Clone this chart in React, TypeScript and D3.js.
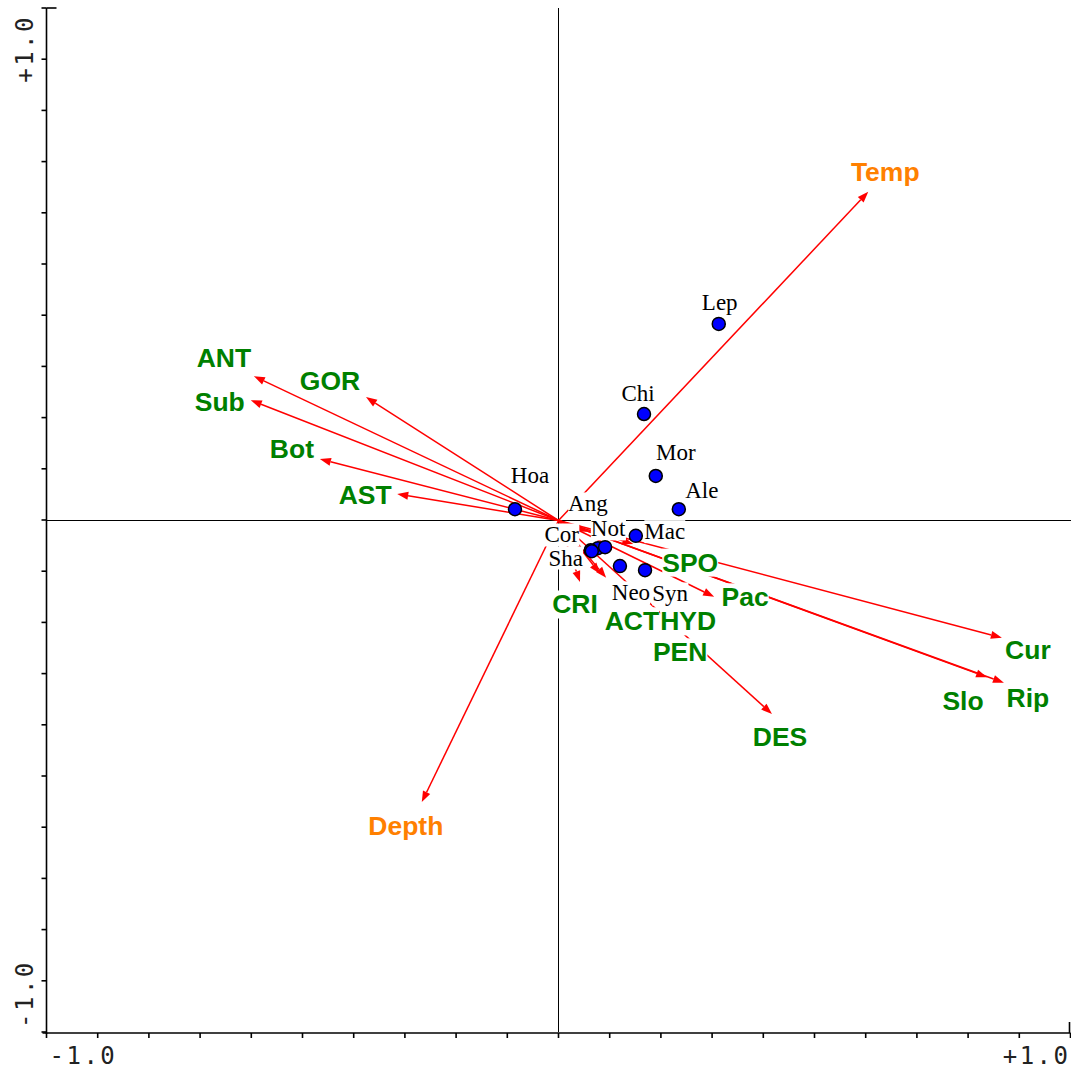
import { useEffect, useRef } from "react";
import * as d3 from "d3";

const W = 1071;
const H = 1070;

// environmental variables (orange)
const envNames = ["Temp", "Depth"];
const envX = [0.605, -0.267];
const envY = [0.641, -0.551];

// trait / habitat vectors (green)
const varNames = ["ANT", "Sub", "GOR", "Bot", "AST", "Cur", "Rip", "Slo", "DES", "Pac", "SPO", "PEN", "CRI", "ACT", "HYD"];
const varX = [-0.595, -0.601, -0.376, -0.466, -0.315, 0.866, 0.87, 0.837, 0.417, 0.304, 0.146, 0.056, 0.042, 0.081, 0.093];
const varY = [0.281, 0.234, 0.24, 0.119, 0.051, -0.23, -0.318, -0.307, -0.379, -0.15, -0.047, -0.023, -0.121, -0.105, -0.113];

// taxa (blue points)
const taxaNames = ["Lep", "Chi", "Mor", "Ale", "Hoa", "Mac", "Ang", "Cor", "Sha", "Not", "Neo", "Syn"];
const taxaX = [0.313, 0.167, 0.19, 0.235, -0.085, 0.151, 0.077, 0.063, 0.065, 0.091, 0.12, 0.169];
const taxaY = [0.383, 0.207, 0.086, 0.021, 0.021, -0.031, -0.055, -0.059, -0.061, -0.053, -0.09, -0.098];

// label placement, pixel offsets from arrow tip / point
const labelOffset: Record<string, [number, number]> = {
  Temp: [17, -20], Depth: [-16, 23],
  ANT: [-30, -19], Sub: [-31, 1], GOR: [-36, -17], Bot: [-28, -11], AST: [-32, 1],
  Cur: [26, 12], Rip: [24, 15], Slo: [-24, 23], DES: [8, 22], Pac: [31, 0],
  SPO: [57, 18], PEN: [93, 120], CRI: [-5, 22], ACT: [32, 47], HYD: [82, 43],
  Lep: [1, -22], Chi: [-6, -21], Mor: [20, -24], Ale: [23, -20], Hoa: [15, -35],
  Mac: [29, -5], Ang: [-10, -45], Cor: [-29, -16], Sha: [-26, 6], Not: [3, -19],
  Neo: [11, 26], Syn: [25, 23],
};

const App = () => {
  const ref = useRef<SVGSVGElement>(null);

  useEffect(() => {
    if (!ref.current) return;
    const svg = d3.select(ref.current);
    svg.selectAll("*").remove();

    const x = d3.scaleLinear().domain([-1, 1]).range([46.5, 1070.5]);
    const y = d3.scaleLinear().domain([-1, 1]).range([1032, 8]);
    const ticks = d3.range(-10, 11).map((d) => d / 10);

    // zero lines
    const zg = svg.append("g").attr("stroke", "black").attr("stroke-width", 1).attr("shape-rendering", "crispEdges");
    zg.append("line").attr("x1", 558.5).attr("x2", 558.5).attr("y1", y(1)).attr("y2", y(-1));
    zg.append("line").attr("x1", x(-1)).attr("x2", x(1)).attr("y1", 520.5).attr("y2", 520.5);

    // axes
    const ax = svg.append("g").attr("stroke", "black").attr("stroke-width", 1.6);
    ax.append("line").attr("x1", x(-1)).attr("x2", x(-1)).attr("y1", y(1)).attr("y2", y(-1) + 2);
    ax.append("line").attr("x1", x(-1) - 4).attr("x2", x(1)).attr("y1", y(-1) + 1).attr("y2", y(-1) + 1);
    ax.selectAll(".xt").data(ticks).join("line")
      .attr("x1", (d) => x(d)).attr("x2", (d) => x(d))
      .attr("y1", y(-1) + 1).attr("y2", y(-1) + 6);
    ax.selectAll(".yt").data(ticks).join("line")
      .attr("x1", x(-1) - 5).attr("x2", x(-1))
      .attr("y1", (d) => y(d)).attr("y2", (d) => y(d));
    ax.append("line").attr("x1", x(-1)).attr("x2", x(-1) + 10).attr("y1", y(1)).attr("y2", y(1));
    ax.append("line").attr("x1", x(1) - 1).attr("x2", x(1) - 1).attr("y1", y(-1) + 1).attr("y2", y(-1) - 10);

    const tickFont = (t: any) => t.attr("font-family", "DejaVu Sans Mono").attr("font-size", 24)
      .attr("letter-spacing", 2.5).attr("fill", "#222");
    svg.append("text").text("-1.0").attr("x", x(-1) + 3).attr("y", 1064).call(tickFont);
    svg.append("text").text("+1.0").attr("x", x(1)).attr("y", 1064).attr("text-anchor", "end").call(tickFont);
    svg.append("text").text("+1.0").attr("transform", `translate(33,${y(1) + 7}) rotate(-90)`)
      .attr("text-anchor", "end").call(tickFont);
    svg.append("text").text("-1.0").attr("transform", `translate(33,${y(-1) - 4}) rotate(-90)`)
      .call(tickFont);

    // arrows
    const arrows = [
      ...envNames.map((n, i) => ({ name: n, vx: envX[i], vy: envY[i], color: "#FF8000" })),
      ...varNames.map((n, i) => ({ name: n, vx: varX[i], vy: varY[i], color: "#008000" })),
    ];
    const ag = svg.append("g");
    arrows.forEach((a) => {
      const x0 = 558.5, y0 = 520.5, x1 = x(a.vx), y1 = y(a.vy);
      const ang = Math.atan2(y1 - y0, x1 - x0);
      const L = 11, hw = 4;
      const bx = x1 - L * Math.cos(ang), by = y1 - L * Math.sin(ang);
      ag.append("line").attr("x1", x0).attr("y1", y0).attr("x2", bx).attr("y2", by)
        .attr("stroke", "red").attr("stroke-width", 1.5);
      const p = [
        [x1, y1],
        [bx + hw * Math.sin(ang), by - hw * Math.cos(ang)],
        [bx - hw * Math.sin(ang), by + hw * Math.cos(ang)],
      ];
      ag.append("polygon").attr("points", p.map((q) => q.join(",")).join(" ")).attr("fill", "red");
    });

    // labels with white background
    const lg = svg.append("g");
    const addLabel = (name: string, px: number, py: number, color: string, serif: boolean) => {
      const [dx, dy] = labelOffset[name] || [0, -20];
      const g = lg.append("g");
      const rect = g.append("rect").attr("fill", "white");
      const t = g.append("text").text(name)
        .attr("x", px + dx).attr("y", py + dy).attr("dy", "0.36em")
        .attr("text-anchor", "middle").attr("fill", color);
      if (serif) t.attr("font-family", "Liberation Serif").attr("font-size", 23);
      else t.attr("font-family", "Liberation Sans").attr("font-weight", "bold").attr("font-size", 26.5);
      const bb = (t.node() as SVGTextElement).getBBox();
      rect.attr("x", bb.x).attr("y", bb.y + 1).attr("width", bb.width).attr("height", bb.height - 2);
    };
    arrows.forEach((a) => addLabel(a.name, x(a.vx), y(a.vy), a.color, false));
    taxaNames.forEach((n, i) => addLabel(n, x(taxaX[i]), y(taxaY[i]), "black", true));

    // taxa points
    svg.append("g").selectAll("circle").data(taxaNames).join("circle")
      .attr("cx", (_, i) => x(taxaX[i])).attr("cy", (_, i) => y(taxaY[i]))
      .attr("r", 6.5).attr("fill", "#0000FF").attr("stroke", "black").attr("stroke-width", 1.5);
  }, []);

  return (
    <svg ref={ref} width={W} height={H} style={{ position: "absolute", left: 0, top: 0, background: "white" }} />
  );
};

export default App;
